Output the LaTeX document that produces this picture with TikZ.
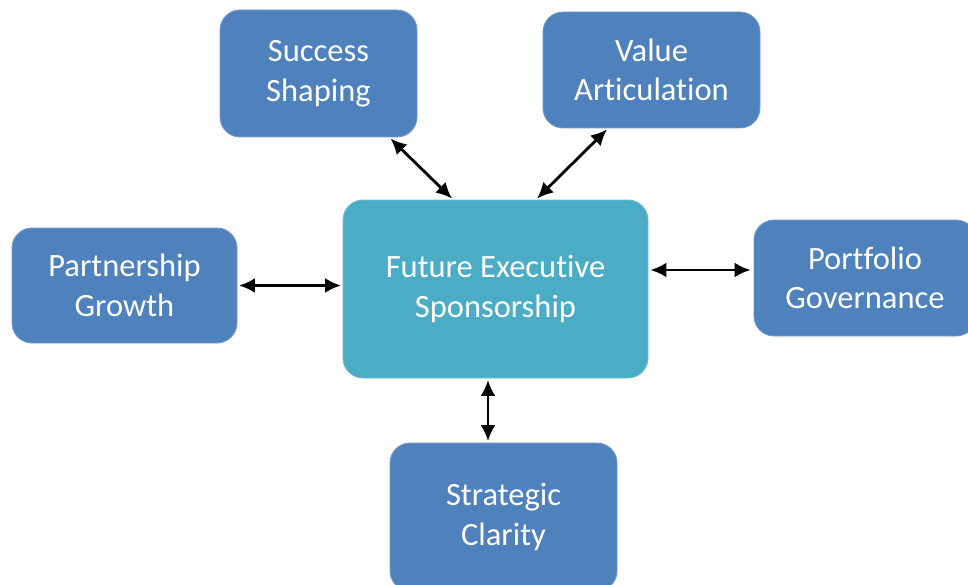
\documentclass[tikz,border=0pt]{standalone}
\usepackage{fontspec}
\setmainfont[Ligatures={NoCommon}]{Carlito}
\usepackage{xcolor}
\usetikzlibrary{positioning,calc,arrows.meta}

\definecolor{boxblue}{HTML}{4F81BD}
\definecolor{hubteal}{HTML}{4BACC6}

\begin{document}
\begin{tikzpicture}[
    area/.style={rectangle, rounded corners=0.4cm, fill=boxblue, draw=boxblue!80!white, line width=0.5pt,
        text=white, align=center, inner sep=0pt, font=\fontsize{18.5}{22.5}\selectfont},
    hub/.style={area, fill=hubteal, draw=hubteal!80!white},
    link/.style={{Latex[length=3.2mm,width=3mm]}-{Latex[length=3.2mm,width=3mm]}, line width=1.6pt, black}
]
    \useasboundingbox (0,0) rectangle (19.36,11.68);
    \clip (0,0) rectangle (19.36,11.68);

    % centre
    \node[hub, minimum width=6.1cm, minimum height=3.56cm] (fes) at (9.91,5.90) {Future Executive\\Sponsorship};

    % surrounding areas
    \node[area, minimum width=3.94cm, minimum height=2.54cm] (ss) at (6.37,10.21) {Success\\Shaping};
    \node[area, minimum width=4.34cm, minimum height=2.32cm] (va) at (13.03,10.28) {Value\\Articulation};
    \node[area, minimum width=4.5cm, minimum height=2.3cm] (pg) at (2.49,5.97) {Partnership\\Growth};
    \node[area, minimum width=4.44cm, minimum height=2.32cm] (pgov) at (17.3,6.12) {Portfolio\\Governance};
    \node[area, minimum width=4.54cm, minimum height=2.96cm] (sc) at (10.07,1.34) {Strategic\\Clarity};

    % link end points
    \coordinate (pgl) at ($(fes.east)+(0.04,0.38)$);
    \coordinate (scl) at ($(fes.south)+(-0.15,-0.03)$);

    % links
    \draw[link] ($(ss.south east)+(-0.54,-0.02)$) -- ($(fes.north)+(-0.87,0.02)$);
    \draw[link] ($(va.south)+(-0.89,-0.02)$) -- ($(fes.north)+(0.83,0.02)$);
    \draw[link] ($(pg.east)+(0.03,0)$) -- ($(pg.east -| fes.west)+(-0.03,0)$);
    \draw[link] (pgl) -- ($(pgl -| pgov.west)+(-0.06,0)$);
    \draw[link] (scl) -- ($(scl |- sc.north)+(0,0.03)$);
\end{tikzpicture}
\end{document}
